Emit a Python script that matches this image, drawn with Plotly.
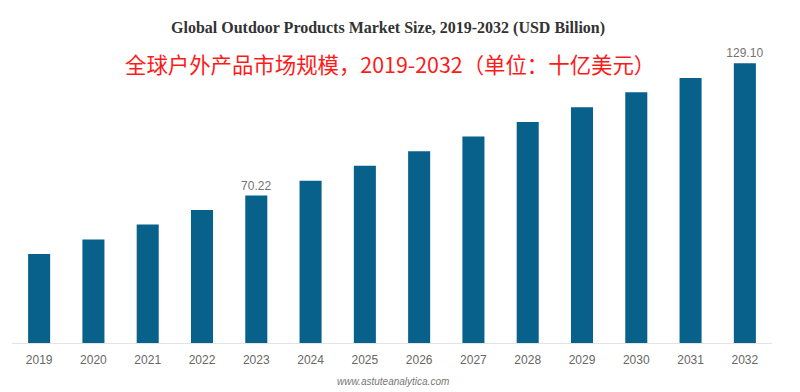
import plotly.graph_objects as go

years = ["2019", "2020", "2021", "2022", "2023", "2024", "2025", "2026",
         "2027", "2028", "2029", "2030", "2031", "2032"]
market_size = [44.16, 50.65, 57.32, 63.73, 70.22, 76.76, 83.43, 89.96,
               96.45, 102.99, 109.53, 116.20, 122.56, 129.10]
shown_labels = ["", "", "", "", "70.22", "", "", "", "", "", "", "", "", "129.10"]

title_en = "<b>Global Outdoor Products Market Size, 2019-2032 (USD Billion)</b>"
title_zh = "全球户外产品市场规模，2019-2032（单位：十亿美元）"
source = "www.astuteanalytica.com"

W, H = 800, 392
L, R, T, B = 12, 28, 40, 49
PW, PH = W - L - R, H - T - B


def px_x(x):
    return (x - L) / PW


def px_y(y):
    return (H - B - y) / PH


fig = go.Figure()
fig.add_trace(go.Bar(
    x=years, y=market_size,
    marker=dict(color="#07618a", line=dict(width=0)),
    text=shown_labels, textposition="outside", cliponaxis=False,
    constraintext="none",
    textfont=dict(family="Liberation Sans, Arial", size=12, color="#737373"),
    hoverinfo="skip",
))

fig.update_layout(
    width=W, height=H,
    margin=dict(l=L, r=R, t=T, b=B, pad=0),
    paper_bgcolor="white", plot_bgcolor="white",
    showlegend=False,
    bargap=0.594,
    xaxis=dict(type="category", showgrid=False, showline=True,
               linecolor="#e3e3e3", linewidth=1, ticks="",
               ticklabelstandoff=6,
               tickfont=dict(family="Liberation Sans, Arial", size=12, color="#666666"),
               range=[-0.5, 13.5], fixedrange=True),
    yaxis=dict(range=[4.58, 139.46], showgrid=False, zeroline=False,
               showticklabels=False, showline=False, fixedrange=True),
    annotations=[
        dict(text=title_en, xref="paper", yref="paper", x=px_x(388), y=px_y(28),
             xanchor="center", yanchor="middle", showarrow=False,
             font=dict(family="Liberation Serif, Times New Roman", size=16, color="#333333")),
        dict(text=title_zh, xref="paper", yref="paper", x=px_x(390), y=px_y(63),
             xanchor="center", yanchor="middle", showarrow=False,
             font=dict(family="Noto Sans CJK SC", size=21.4, color="#ff1a1a")),
        dict(text="<i>" + source + "</i>", xref="paper", yref="paper", x=px_x(393), y=px_y(381),
             xanchor="center", yanchor="middle", showarrow=False,
             font=dict(family="Liberation Sans, Arial", size=10, color="#777777")),
    ],
)

fig.write_html(
    "out.html",
    config={"displayModeBar": False},
    post_script="document.body.style.margin='0';document.body.style.overflow='hidden';",
)
